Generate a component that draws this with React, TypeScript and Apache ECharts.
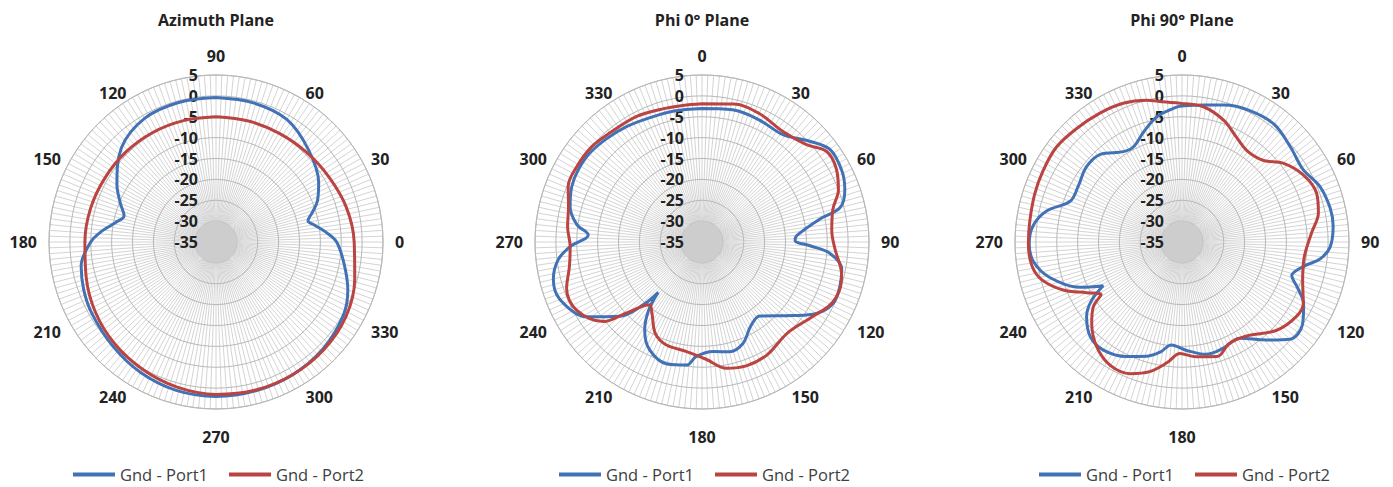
import React, { useEffect, useRef } from 'react';
import * as echarts from 'echarts';

// ---------- data ----------
const TITLES = ['Azimuth Plane', 'Phi 0° Plane', 'Phi 90° Plane'];
const SERIES_NAMES = ['Gnd - Port1', 'Gnd - Port2'];
const RADIAL_MIN = -35;
const RADIAL_MAX = 5;
const RADIAL_STEP = 5;
const ANGLE_STEP = 30;

// Azimuth plane (angle counter-clockwise from the right)
const AZ_P1_ANG = [0, 5, 10, 13, 17, 22, 30, 45, 60, 75, 90, 105, 120, 135, 150, 158, 164, 169, 175, 180, 190, 200, 210, 225, 240, 255, 270, 285, 300, 315, 330, 340, 350];
const AZ_P1_DB = [-6.1, -8.5, -11.2, -12.4, -10.9, -8.8, -6.6, -3.7, -1.1, -0.5, -0.4, -0.4, -0.8, -3.0, -7.6, -10.3, -12.1, -10.5, -7.3, -5.0, -2.2, -1.3, -0.7, 0.1, 1.1, 1.8, 2.0, 1.9, 1.7, 1.2, 0.2, -1.4, -3.8];
const AZ_P2_ANG = [0, 15, 30, 45, 60, 75, 90, 105, 120, 135, 150, 165, 180, 195, 210, 225, 240, 255, 270, 285, 300, 315, 330, 345];
const AZ_P2_DB = [-1.9, -2.7, -3.8, -4.5, -4.9, -5.0, -5.0, -4.9, -4.7, -4.5, -4.3, -3.9, -3.6, -2.8, -1.6, -0.6, 0.2, 1.0, 1.5, 1.7, 1.7, 1.5, 0.9, -0.6];

// Phi 0° plane (clockwise from the top)
const P0_P1_ANG = [0, 13, 25, 37, 46, 54, 63, 70, 76, 79, 86, 89, 92, 95, 101, 108, 115, 122, 129, 142, 150, 158, 166, 174, 183, 187, 196, 206, 213, 218, 221, 223, 228, 237, 248, 256, 263, 268, 273.5, 278, 285, 293, 300, 308, 317, 327, 337, 348];
const P0_P1_DB = [-3.0, -2.5, -2.7, -2.8, 0.0, 2.8, 2.6, 1.4, -0.9, -6.3, -12.2, -12.7, -9.1, -4.3, -0.9, -0.3, -0.3, -2.7, -7.0, -12.5, -11.7, -8.8, -7.9, -8.6, -7.5, -5.3, -4.6, -6.3, -9.8, -14.2, -19.0, -14.5, -8.4, -2.1, 1.7, 1.7, -0.3, -3.4, -7.7, -4.7, -2.3, -1.1, -0.7, -0.7, -1.3, -2.0, -2.7, -2.9];
const P0_P2_ANG = [0, 13, 24, 36, 47, 54, 61, 69, 76, 85, 93, 103, 109, 116, 125, 137, 150, 160, 169, 178, 188, 199, 207, 215, 220, 227, 231, 241.5, 251, 259.5, 268, 276.5, 285, 292.5, 301, 311, 320, 332.5, 342, 352];
const P0_P2_DB = [-1.9, -1.1, -1.3, -2.2, -0.8, 1.9, 1.7, 0.0, -2.7, -3.8, -3.1, -0.7, -0.1, -0.8, -3.3, -5.1, -3.8, -3.5, -4.2, -6.9, -8.5, -8.9, -10.4, -14.1, -15.4, -9.9, -4.7, -0.8, -0.7, -2.7, -3.4, -2.6, -1.9, -0.3, 0.0, -0.1, -0.8, -1.1, -1.7, -2.0];

// Phi 90° plane (clockwise from the top)
const P90_P1_ANG = [0, 9, 17, 27, 38, 49, 59, 68, 77, 84, 92, 97, 101.5, 107, 112, 117, 124.5, 132, 139, 149, 159, 168, 177.5, 186, 191, 197, 206, 216, 224, 232, 237, 241, 246, 255, 262.5, 269.5, 276.5, 283, 290, 298, 308, 317, 327, 333, 341, 349, 358];
const P90_P1_DB = [-2.4, -1.8, -0.7, 0.4, 0.8, -0.5, -1.2, 0.6, 1.4, 1.4, 0.5, -1.7, -5.4, -7.5, -5.0, -2.3, 0.0, -0.2, -3.9, -8.1, -7.7, -7.5, -9.0, -10.2, -8.2, -6.4, -4.5, -3.0, -3.4, -6.0, -9.1, -13.4, -8.3, -2.2, 0.9, 1.6, 0.8, -1.8, -6.5, -6.8, -5.9, -6.3, -9.2, -9.4, -7.0, -4.3, -2.6];
const P90_P2_ANG = [0, 9, 19, 27, 36, 45, 52, 61, 70, 78, 86, 97, 107.5, 117, 123, 133, 145.5, 155, 163, 173, 181, 187, 194, 201.5, 210, 219, 228, 234, 237, 242, 248, 255, 261, 269.5, 278, 288, 297, 307, 317, 327.5, 337, 346, 352];
const P90_P2_DB = [-1.8, -2.2, -4.2, -6.6, -8.2, -7.4, -4.3, -1.8, -0.7, -1.6, -3.9, -5.5, -4.7, -2.4, -2.3, -4.0, -7.7, -8.2, -6.3, -7.3, -8.3, -5.9, -3.0, -1.1, -0.8, -2.6, -5.9, -8.8, -11.9, -9.1, -4.3, -0.2, 1.4, 1.8, 1.8, 2.1, 2.4, 2.7, 2.1, 1.6, 1.1, 0.0, -1.1];

// ---------- layout / style ----------
const W = 1393;
const H = 487;
const CENTERS_X = [216, 702, 1182];
const CENTER_Y = 242;
const RADIUS = 167;
const COLORS = ['#4172B6', '#BA4441'];
const FONT = "'Open Sans', 'Liberation Sans', sans-serif";

function loop(angles: number[], values: number[], start: number) {
  const pts = angles.map((a, i) => [values[i], a < start ? a + 360 : a]);
  pts.sort((p, q) => p[1] - q[1]);
  pts.push([pts[0][0], pts[0][1] + 360]);
  return pts;
}

// label style key by position around the dial (0 = top, clockwise)
function labelKey(posFromTop: number) {
  const p = ((posFromTop % 360) + 360) % 360;
  if (p === 0) return 'top';
  if (p === 180) return 'bot';
  if (p < 90 || p > 270) return 'up';
  return 'mid';
}

export default function App() {
  const ref = useRef<HTMLDivElement>(null);

  useEffect(() => {
    if (!ref.current) return;
    const chart = echarts.init(ref.current, undefined, { renderer: 'svg' });

    const charts = [
      { start: 90, clockwise: false, p1: loop(AZ_P1_ANG, AZ_P1_DB, 90), p2: loop(AZ_P2_ANG, AZ_P2_DB, 90) },
      { start: 0, clockwise: true, p1: loop(P0_P1_ANG, P0_P1_DB, 0), p2: loop(P0_P2_ANG, P0_P2_DB, 0) },
      { start: 0, clockwise: true, p1: loop(P90_P1_ANG, P90_P1_DB, 0), p2: loop(P90_P2_ANG, P90_P2_DB, 0) },
    ];

    const polar = CENTERS_X.map((cx) => ({ center: [cx, CENTER_Y], radius: RADIUS }));

    const spoke = { color: '#d4d4d4', width: 1 };
    const labelFont = { fontSize: 16, fontWeight: 'bold', fontFamily: FONT, color: '#222' };

    const angleAxis = charts.map((c, i) => ({
      polarIndex: i,
      type: 'value',
      min: c.start,
      max: c.start + 360,
      interval: ANGLE_STEP,
      startAngle: 90,
      clockwise: c.clockwise,
      axisLine: { show: true, lineStyle: { color: '#b8b8b8', width: 1 } },
      axisTick: { show: false },
      minorTick: { show: false, splitNumber: 15 },
      splitLine: { show: true, lineStyle: spoke },
      minorSplitLine: { show: true, lineStyle: spoke },
      axisLabel: {
        margin: 12,
        ...labelFont,
        formatter: (v: number) => {
          if (v >= c.start + 360) return '';
          const pos = c.clockwise ? v - c.start : c.start - v;
          return `{${labelKey(pos)}|${v % 360}}`;
        },
        rich: {
          top: { ...labelFont, lineHeight: 14 },
          bot: { ...labelFont, lineHeight: 32 },
          up: { ...labelFont, lineHeight: 0, padding: [13, 0, 0, 0] },
          mid: { ...labelFont, lineHeight: 0 },
        },
      },
    }));

    const radiusAxis = charts.map((_, i) => ({
      polarIndex: i,
      type: 'value',
      min: RADIAL_MIN,
      max: RADIAL_MAX,
      interval: RADIAL_STEP,
      axisLine: { show: false },
      axisTick: { show: false },
      splitLine: { show: true, lineStyle: { color: '#b8b8b8', width: 1 } },
      splitArea: {
        show: true,
        areaStyle: {
          color: ['#cdcdcd', 'rgba(0,0,0,0)', 'rgba(0,0,0,0)', 'rgba(0,0,0,0)', 'rgba(0,0,0,0)', 'rgba(0,0,0,0)', 'rgba(0,0,0,0)', 'rgba(0,0,0,0)'],
        },
      },
      axisLabel: {
        margin: 18,
        fontSize: 16,
        fontWeight: 'bold',
        fontFamily: FONT,
        color: '#222',
      },
      z: 1,
    }));

    const series: any[] = [];
    charts.forEach((c, i) => {
      [c.p1, c.p2].forEach((data, k) => {
        series.push({
          type: 'line',
          name: SERIES_NAMES[k],
          coordinateSystem: 'polar',
          polarIndex: i,
          data,
          symbol: 'none',
          smooth: 0.35,
          lineStyle: { width: 3, color: COLORS[k] },
          itemStyle: { color: COLORS[k] },
          z: 3,
        });
      });
    });

    const legend = CENTERS_X.map((cx) => ({
      data: SERIES_NAMES,
      left: cx - 148,
      top: 461,
      icon: 'rect',
      itemWidth: 42,
      itemHeight: 4,
      itemGap: 21,
      selectedMode: false,
      textStyle: { fontSize: 16.5, color: '#404040', fontFamily: FONT },
    }));

    const graphic = CENTERS_X.map((cx, i) => ({
      type: 'text',
      x: cx,
      y: 20,
      style: {
        text: TITLES[i],
        fontSize: 16,
        fontWeight: 'bold',
        fontFamily: FONT,
        fill: '#222',
        align: 'center',
        verticalAlign: 'middle',
      },
    }));

    chart.setOption({
      animation: false,
      backgroundColor: '#ffffff',
      polar,
      angleAxis,
      radiusAxis,
      legend,
      graphic,
      series,
    });

    return () => chart.dispose();
  }, []);

  return (
    <div
      ref={ref}
      style={{ position: 'fixed', left: 0, top: 0, width: W, height: H }}
    />
  );
}
